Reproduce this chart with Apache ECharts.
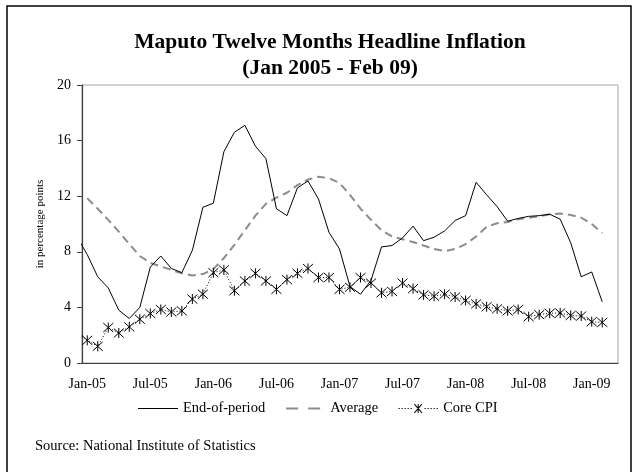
<!DOCTYPE html>
<html>
<head>
<meta charset="utf-8">
<script src="https://cdn.jsdelivr.net/npm/echarts@6/dist/echarts.min.js"></script>
<style>
  html, body { margin: 0; padding: 0; background: #fff; }
  #chart { width: 634px; height: 472px; }
</style>
</head>
<body>
<div id="chart"></div>
<script>
// Category (month) labels on the axis: Jan-05 .. Mar-09 (last one is an empty slot)
const monthLabels = [
  'Jan-05','Feb-05','Mar-05','Apr-05','May-05','Jun-05','Jul-05','Aug-05','Sep-05','Oct-05','Nov-05','Dec-05',
  'Jan-06','Feb-06','Mar-06','Apr-06','May-06','Jun-06','Jul-06','Aug-06','Sep-06','Oct-06','Nov-06','Dec-06',
  'Jan-07','Feb-07','Mar-07','Apr-07','May-07','Jun-07','Jul-07','Aug-07','Sep-07','Oct-07','Nov-07','Dec-07',
  'Jan-08','Feb-08','Mar-08','Apr-08','May-08','Jun-08','Jul-08','Aug-08','Sep-08','Oct-08','Nov-08','Dec-08',
  'Jan-09','Feb-09','Mar-09'
];

// End-of-period: Dec-04 .. Feb-09 (first value is Dec-04, drawn just left of the axis)
const endOfPeriod = [
  9.1,
  7.8, 6.2, 5.4, 3.8, 3.2, 4.0, 6.9, 7.7, 6.8, 6.5, 8.1, 11.2,
  11.5, 15.2, 16.6, 17.1, 15.6, 14.7, 11.1, 10.6, 12.6, 13.1, 11.8, 9.4,
  8.2, 5.5, 4.95, 5.95, 8.35, 8.45, 9.0, 9.85, 8.8, 9.05, 9.5, 10.25,
  10.6, 13.0, 12.1, 11.25, 10.2, 10.4, 10.55, 10.6, 10.7, 10.35, 8.65, 6.2,
  6.55, 4.4
];

// Average: Jan-05 .. Feb-09
const average = [
  11.85, 11.1, 10.3, 9.45, 8.55, 7.7, 7.2, 6.95, 6.7, 6.45, 6.3, 6.4,
  6.75, 7.55, 8.5, 9.55, 10.6, 11.45, 11.9, 12.25, 12.8, 13.2, 13.4, 13.3,
  12.95, 12.1, 11.1, 10.3, 9.55, 9.1, 8.9, 8.7, 8.45, 8.2, 8.05, 8.2,
  8.55, 9.1, 9.8, 10.05, 10.15, 10.35, 10.45, 10.55, 10.7, 10.75, 10.65, 10.45,
  10.0, 9.35
];

// Core CPI: Dec-04 .. Feb-09 (first value is Dec-04, no marker)
const coreCPI = [
  2.2,
  1.63, 1.2, 2.55, 2.16, 2.6, 3.15, 3.56, 3.85, 3.67, 3.75, 4.6, 4.95,
  6.5, 6.7, 5.2, 5.9, 6.45, 5.9, 5.3, 6.0, 6.45, 6.8, 6.15, 6.15,
  5.3, 5.45, 6.15, 5.75, 5.05, 5.15, 5.75, 5.35, 4.9, 4.8, 4.95, 4.75,
  4.5, 4.25, 4.05, 3.9, 3.75, 3.85, 3.33, 3.48, 3.58, 3.6, 3.42, 3.38,
  2.97, 2.92
];

const seriesNames = ['End-of-period', 'Average', 'Core CPI'];
const yTicks = { min: 0, max: 20, interval: 4 };
const titleLines = ['Maputo Twelve Months Headline Inflation', '(Jan 2005 - Feb 09)'];
const yAxisName = 'in percentage points';
const sourceText = 'Source: National Institute of Statistics';

const FONT = "'Liberation Serif', 'Times New Roman', serif";

// month index: Jan-05 = 0; series that begin in Dec-04 start at -1
function toPoints(values, startIndex) {
  return values.map((v, i) => [startIndex + i, v]);
}

const starPath = 'path://M5,0L5,10M0,0.5L10,9.5M10,0.5L0,9.5';
const corePts = toPoints(coreCPI, -1).map((p, i) => i === 0 ? { value: p, symbol: 'none' } : p);

// legend icons (filled shapes; corner specks fix the 40x10 bounding box)
const box = 'M0,0h0.01v0.01h-0.01Z M40,10h-0.01v-0.01h0.01Z ';
const iconSolid = 'path://' + box + 'M0,4.4H40V5.6H0Z';
const iconDash = 'path://' + box + 'M1,4H13V6H1Z M23,4H35V6H23Z';
let dots = '';
[1, 4, 7, 10, 13, 27, 30, 33, 36, 39].forEach(x => { dots += 'M' + (x - 0.6) + ',4.4h1.2v1.2h-1.2Z '; });
const iconCore = 'path://' + box + dots +
  'M19.5,0.5H20.5V9.5H19.5Z M15.9,0.9L16.6,0.2L24.1,9.1L23.4,9.8Z M23.4,0.2L24.1,0.9L16.6,9.8L15.9,9.1Z';

const chart = echarts.init(document.getElementById('chart'), null, { renderer: 'canvas' });

chart.setOption({
  backgroundColor: '#fff',
  animation: false,
  title: {
    text: titleLines.join('\n'),
    left: 325,
    top: 24,
    textAlign: 'center',
    textStyle: { fontFamily: FONT, fontSize: 21.5, fontWeight: 'bold', color: '#000', lineHeight: 26 }
  },
  grid: {
    left: 82, right: 16, top: 85, bottom: 109,
    show: true, borderColor: '#a6a6a6', borderWidth: 1, backgroundColor: 'transparent'
  },
  legend: {
    left: 133,
    top: 396,
    itemWidth: 40,
    itemHeight: 10,
    itemGap: 20,
    textStyle: { fontFamily: FONT, fontSize: 14.5, color: '#000' },
    data: [
      { name: seriesNames[0], icon: iconSolid, itemStyle: { color: '#000', borderWidth: 0 } },
      { name: seriesNames[1], icon: iconDash, itemStyle: { color: '#8c8c8c', borderWidth: 0 } },
      { name: seriesNames[2], icon: iconCore, itemStyle: { color: '#000', borderWidth: 0 } }
    ]
  },
  xAxis: [
    {
      type: 'category',
      data: monthLabels,
      boundaryGap: true,
      axisLine: { onZero: false, lineStyle: { color: '#404040', width: 1.2 } },
      axisTick: { interval: 5, length: 5, lineStyle: { color: '#404040' } },
      axisLabel: { interval: 5, margin: 14, fontFamily: FONT, fontSize: 14, color: '#000' },
      splitLine: { show: false }
    },
    {
      type: 'value',
      min: -0.5,
      max: monthLabels.length - 0.5,
      show: false,
      axisLine: { onZero: false },
      splitLine: { show: false }
    }
  ],
  yAxis: {
    type: 'value',
    position: 'left',
    min: yTicks.min, max: yTicks.max, interval: yTicks.interval,
    name: yAxisName,
    nameLocation: 'middle',
    nameGap: 36,
    nameRotate: 90,
    nameTextStyle: { fontFamily: FONT, fontSize: 11, color: '#000' },
    axisLine: { show: true, onZero: false, lineStyle: { color: '#404040', width: 1.2 } },
    axisTick: { show: true, length: 5, lineStyle: { color: '#404040' } },
    axisLabel: { margin: 11, fontFamily: FONT, fontSize: 14, color: '#000' },
    splitLine: { show: false }
  },
  series: [
    {
      name: seriesNames[0], type: 'line', xAxisIndex: 1,
      data: toPoints(endOfPeriod, -1),
      showSymbol: false, symbol: 'none', clip: false,
      lineStyle: { color: '#000', width: 1 },
      itemStyle: { color: '#000' },
      z: 3
    },
    {
      name: seriesNames[1], type: 'line', xAxisIndex: 1,
      data: toPoints(average, 0),
      showSymbol: false, symbol: 'none', clip: false,
      lineStyle: { color: '#8c8c8c', width: 2, type: [8, 5] },
      itemStyle: { color: '#8c8c8c' },
      z: 2
    },
    {
      name: seriesNames[2], type: 'line', xAxisIndex: 1,
      data: corePts,
      symbol: starPath, symbolSize: 10, showSymbol: true, clip: false,
      lineStyle: { color: '#000', width: 1, type: [1, 2] },
      itemStyle: { color: '#000', borderColor: '#000', borderWidth: 1 },
      z: 4
    }
  ],
  graphic: [
    {
      type: 'polyline',
      shape: { points: [[7, 472], [7, 6], [631, 6], [631, 472]] },
      style: { stroke: '#000', lineWidth: 1.5, fill: null },
      silent: true
    },
    {
      type: 'text',
      left: 35,
      top: 439,
      style: { text: sourceText, font: '14.5px ' + FONT, fill: '#000' },
      silent: true
    }
  ]
});
</script>
</body>
</html>
